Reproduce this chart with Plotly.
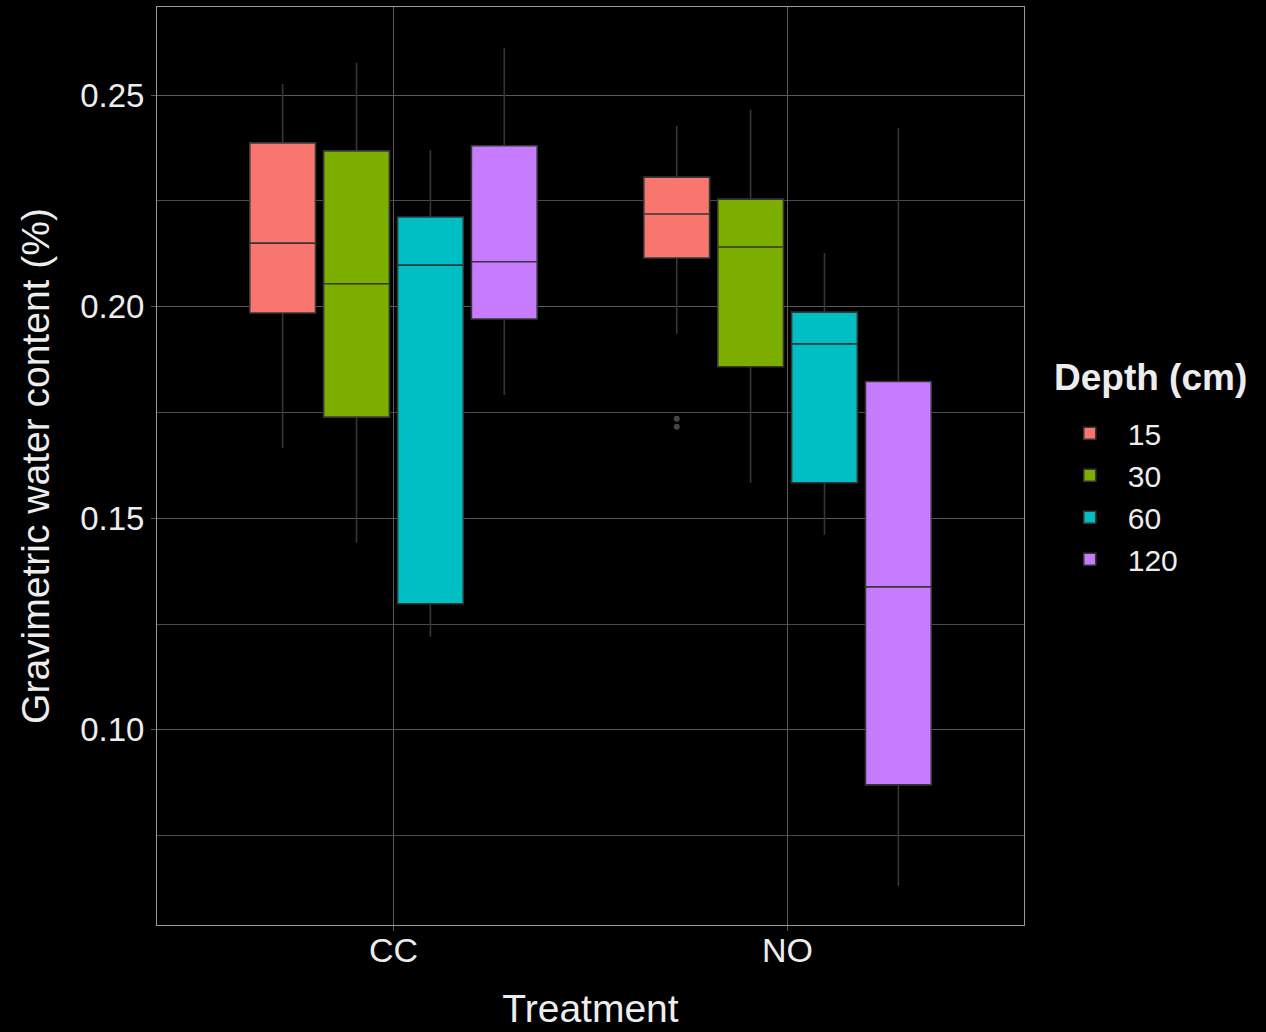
import plotly.graph_objects as go

# Box statistics (gravimetric water content)
treatments = ["CC", "NO"]
depths = ["15", "30", "60", "120"]
colors = ["#F8766D", "#7CAE00", "#00BFC4", "#C77CFF"]

upper = {"15": [0.2526, 0.2427], "30": [0.2576, 0.2465], "60": [0.2370, 0.2127], "120": [0.2611, 0.2422]}
q3 =    {"15": [0.2387, 0.2306], "30": [0.2368, 0.2254], "60": [0.2212, 0.1987], "120": [0.2380, 0.1823]}
med =   {"15": [0.2150, 0.2219], "30": [0.2054, 0.2141], "60": [0.2098, 0.1912], "120": [0.2106, 0.1338]}
q1 =    {"15": [0.1985, 0.2115], "30": [0.1739, 0.1858], "60": [0.1298, 0.1584], "120": [0.1971, 0.0870]}
lower = {"15": [0.1666, 0.1936], "30": [0.1442, 0.1584], "60": [0.1220, 0.1461], "120": [0.1791, 0.0632]}
# outlier samples (only NO / 15 cm has them)
outliers_15 = [[0.2150], [0.1735, 0.1716]]

_TEXT = "#EDEDED"
_GRID = "#5A5A5A"
_MINOR = "#4A4A4A"
_BORDER = "#9A9A9A"
_FONT = "Liberation Sans, Arial, sans-serif"

fig = go.Figure()
for d, c in zip(depths, colors):
    extra = dict(y=outliers_15, boxpoints="outliers") if d == "15" else dict(boxpoints=False)
    fig.add_trace(go.Box(
        name=d,
        x=treatments,
        q1=q1[d], median=med[d], q3=q3[d],
        lowerfence=lower[d], upperfence=upper[d],
        fillcolor=c,
        line=dict(color="#363636", width=1.6),
        marker=dict(color="#444444", size=6),
        whiskerwidth=0,
        hoverinfo="y",
        **extra,
    ))

# legend title drawn as annotation so the gap to the keys matches ggplot
fig.add_annotation(
    text="<b>Depth (cm)</b>", xref="paper", yref="paper",
    x=1.032, y=0.596, xanchor="left", yanchor="middle",
    showarrow=False, font=dict(size=37, color=_TEXT),
)

fig.update_layout(
    boxmode="group",
    boxgap=0.25,
    boxgroupgap=0.11,
    width=1266, height=1032,
    paper_bgcolor="black",
    plot_bgcolor="black",
    font=dict(family=_FONT, color=_TEXT, size=33),
    margin=dict(l=157, r=242, t=7, b=107),
    legend=dict(
        font=dict(size=30, color=_TEXT),
        x=1.032, xanchor="left", y=0.467, yanchor="middle",
        bgcolor="rgba(0,0,0,0)",
        itemwidth=66,
    ),
    xaxis=dict(
        title=dict(text="Treatment", font=dict(size=39), standoff=26),
        range=[-0.6, 1.6],
        automargin=False,
        showgrid=True, gridcolor=_GRID, gridwidth=1,
        showline=True, linecolor=_BORDER, mirror=True, linewidth=1,
        ticks="outside", ticklen=5, tickcolor=_GRID,
        ticklabelstandoff=-10,
        tickfont=dict(size=34),
    ),
    yaxis=dict(
        title=dict(text="Gravimetric water content (%)", font=dict(size=39), standoff=18),
        range=[0.0539, 0.2708],
        automargin=False,
        tick0=0.1, dtick=0.05, tickformat=".2f",
        showgrid=True, gridcolor=_GRID, gridwidth=1,
        minor=dict(dtick=0.025, tick0=0.075, showgrid=True, gridcolor=_MINOR, gridwidth=1),
        showline=True, linecolor=_BORDER, mirror=True, linewidth=1,
        ticks="outside", ticklen=5, tickcolor=_GRID,
        zeroline=False,
        tickfont=dict(size=33),
    ),
)

fig.write_html("out.html", config={"displayModeBar": False},
               post_script="document.body.style.margin='0';")
